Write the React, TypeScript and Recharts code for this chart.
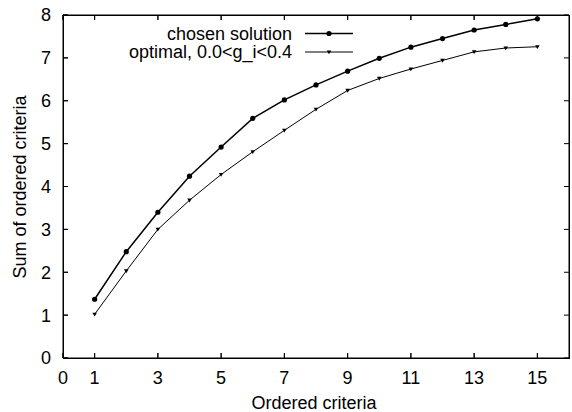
import { LineChart, Line, XAxis, YAxis, Legend, Label } from "recharts";

const criteria = [1, 2, 3, 4, 5, 6, 7, 8, 9, 10, 11, 12, 13, 14, 15];
const chosenSolution = [1.37, 2.48, 3.4, 4.24, 4.92, 5.59, 6.02, 6.37, 6.69, 6.99, 7.25, 7.45, 7.65, 7.78, 7.91];
const optimalSolution = [1.02, 2.03, 3.0, 3.68, 4.28, 4.81, 5.31, 5.8, 6.24, 6.52, 6.74, 6.94, 7.14, 7.23, 7.26];

const xTicks = [0, 1, 3, 5, 7, 9, 11, 13, 15];
const yTicks = [0, 1, 2, 3, 4, 5, 6, 7, 8];
const xDomain = [0, 16];
const yDomain = [0, 8];

const seriesNames = ["chosen solution", "optimal, 0.0<g_i<0.4"];

const FONT = '"Liberation Sans", Arial, Helvetica, sans-serif';
const FS = 18;

// chart box
const W = 572;
const H = 412;
const MARGIN = { top: 5, right: 0, bottom: 0, left: 0 };
const TOP_AXIS_H = 10;
const BOTTOM_AXIS_H = 54;
const LEFT_AXIS_W = 63;
const RIGHT_AXIS_W = 3;
const PLOT = {
  left: MARGIN.left + LEFT_AXIS_W,
  right: W - MARGIN.right - RIGHT_AXIS_W,
  top: MARGIN.top + TOP_AXIS_H,
  bottom: H - MARGIN.bottom - BOTTOM_AXIS_H,
};
const TICK_LEN = 5;

const data = criteria.map((c, i) => ({
  x: c,
  chosen: chosenSolution[i],
  optimal: optimalSolution[i],
}));

function CircleDot(props: any) {
  const { cx, cy } = props;
  if (cx == null || cy == null) return null;
  return <circle cx={cx} cy={cy} r={2.6} fill="#000" />;
}

function TriangleDot(props: any) {
  const { cx, cy } = props;
  if (cx == null || cy == null) return null;
  return <path d={`M${cx - 2.3},${cy - 1.6} L${cx + 2.3},${cy - 1.6} L${cx},${cy + 2.2} Z`} fill="#000" />;
}

function LegendBox() {
  const rows = [
    { y: 33.5, name: seriesNames[0], width: 1.5, circle: true },
    { y: 52, name: seriesNames[1], width: 1, circle: false },
  ];
  return (
    <svg width={572} height={70} style={{ display: "block" }}>
      {rows.map((r) => (
        <g key={r.name}>
          <text x={292} y={r.y + 6} textAnchor="end" fontSize={FS} fontFamily={FONT} fill="#000">
            {r.name}
          </text>
          <line x1={305} x2={353} y1={r.y} y2={r.y} stroke="#000" strokeWidth={r.width} />
          {r.circle ? <CircleDot cx={329} cy={r.y} /> : <TriangleDot cx={329} cy={r.y} />}
        </g>
      ))}
    </svg>
  );
}

// gnuplot-style border with inward ticks on all four sides
function Border() {
  const sx = (v: number) => PLOT.left + ((v - xDomain[0]) / (xDomain[1] - xDomain[0])) * (PLOT.right - PLOT.left);
  const sy = (v: number) => PLOT.bottom - ((v - yDomain[0]) / (yDomain[1] - yDomain[0])) * (PLOT.bottom - PLOT.top);
  return (
    <svg width={W} height={H} style={{ position: "absolute", left: 0, top: 0, pointerEvents: "none" }}>
      <rect
        x={PLOT.left}
        y={PLOT.top}
        width={PLOT.right - PLOT.left}
        height={PLOT.bottom - PLOT.top}
        fill="none"
        stroke="#000"
        strokeWidth={1}
        shapeRendering="crispEdges"
      />
      {xTicks.map((t) => (
        <g key={`x${t}`}>
          <line x1={sx(t)} x2={sx(t)} y1={PLOT.bottom} y2={PLOT.bottom - TICK_LEN} stroke="#000" />
          <line x1={sx(t)} x2={sx(t)} y1={PLOT.top} y2={PLOT.top + TICK_LEN} stroke="#000" />
        </g>
      ))}
      {yTicks.map((t) => (
        <g key={`y${t}`}>
          <line x1={PLOT.left} x2={PLOT.left + TICK_LEN} y1={sy(t)} y2={sy(t)} stroke="#000" />
          <line x1={PLOT.right} x2={PLOT.right - TICK_LEN} y1={sy(t)} y2={sy(t)} stroke="#000" />
        </g>
      ))}
    </svg>
  );
}

const tickStyle = { fill: "#000", fontSize: FS, fontFamily: FONT };

export default function App() {
  return (
    <div style={{ position: "absolute", left: 0, top: 0, width: W, height: H, background: "#fff" }}>
      <div style={{ position: "relative", width: W, height: H }}>
        <LineChart width={W} height={H} data={data} margin={MARGIN}>
          <XAxis xAxisId="bottom" dataKey="x" type="number" domain={xDomain} ticks={xTicks} interval={0} height={BOTTOM_AXIS_H} stroke="#000" tickSize={-5} tickMargin={18} tick={tickStyle}>
            <Label
              content={() => (
                <text x={314} y={409} textAnchor="middle" fontSize={FS} fontFamily={FONT} fill="#000">
                  Ordered criteria
                </text>
              )}
            />
          </XAxis>
          <XAxis xAxisId="top" orientation="top" dataKey="x" type="number" domain={xDomain} ticks={xTicks} interval={0} height={TOP_AXIS_H} stroke="#000" tickSize={-5} tickFormatter={() => ""} />
          <YAxis yAxisId="left" type="number" domain={yDomain} ticks={yTicks} interval={0} width={LEFT_AXIS_W} stroke="#000" tickSize={-5} tickMargin={17} tick={tickStyle}>
            <Label
              content={() => (
                <text x={20} y={187} transform="rotate(-90, 20, 187)" textAnchor="middle" dominantBaseline="central" fontSize={FS} fontFamily={FONT} fill="#000">
                  Sum of ordered criteria
                </text>
              )}
            />
          </YAxis>
          <YAxis yAxisId="right" orientation="right" type="number" domain={yDomain} ticks={yTicks} interval={0} width={RIGHT_AXIS_W} stroke="#000" tickSize={-5} tickFormatter={() => ""} />
          <Legend
            content={() => <LegendBox />}
            layout="horizontal"
            verticalAlign="middle"
            align="center"
            wrapperStyle={{ top: 0, left: 0, width: 572, height: 70 }}
          />
          <Line xAxisId="bottom" yAxisId="left" dataKey="chosen" stroke="#000" strokeWidth={1.5} dot={<CircleDot />} activeDot={false} isAnimationActive={false} />
          <Line xAxisId="bottom" yAxisId="left" dataKey="optimal" stroke="#000" strokeWidth={1} dot={<TriangleDot />} activeDot={false} isAnimationActive={false} />
        </LineChart>
        <Border />
      </div>
    </div>
  );
}
